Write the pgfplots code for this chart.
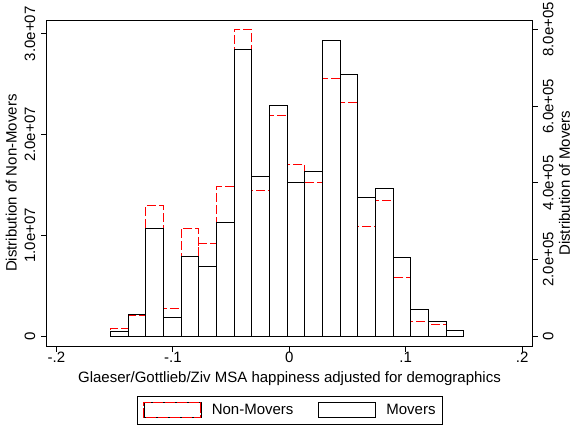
\documentclass[border=0pt]{standalone}
\usepackage{pgfplots}
\usepackage{pgfplotstable}
\pgfplotsset{compat=1.18}
\usepackage{fontspec}
\setmainfont{Liberation Sans}

% bin left edges; the last row only closes the last bin
\pgfplotstableread{
x        nonmovers  movers
-0.15370   783800    12770
-0.13852  2073600    57880
-0.12334 12987000   281300
-0.10816  2768100    49270
-0.09298 10705000   208300
-0.07780  9217000   182200
-0.06262 14873000   296900
-0.04744 30449000   747900
-0.03226 14476000   416900
-0.01708 21917000   601900
-0.00190 17055000   401200
 0.01328 15270000   429900
 0.02846 25588000   771400
 0.04364 23207000   682800
 0.05882 10904000   362100
 0.07400 13483000   385600
 0.08918  5844000   205700
 0.10436  1478000    70130
 0.11954  1181000    38840
 0.13472        0    15380
 0.14990        0        0
}\histdata

\pgfplotsset{
  base/.style={
    at={(0,0)}, anchor=south west,
    scale only axis, width=485.6pt, height=326.3pt,
    xmin=-0.20842, xmax=0.20876,
    tick align=outside, major tick length=5.5pt,
    every tick/.style={black, line width=0.9pt},
    axis line style={line width=0.9pt},
    scaled y ticks=false,
  },
}

\begin{document}
\fontsize{15}{18}\selectfont
\begin{tikzpicture}[font=\fontsize{15}{18}\selectfont]
\begin{axis}[base,
  ymin=-1.002e6, ymax=3.1372e7,
  xtick pos=left, ytick pos=left,
  xtick={-0.2,-0.1,0,0.1,0.2}, xticklabels={-.2,-.1,0,.1,.2},
  ytick={0,1e7,2e7,3e7}, yticklabels={0,1.0e+07,2.0e+07,3.0e+07},
  xticklabel style={anchor=north, inner sep=0pt},
  yticklabel style={rotate=90, anchor=base, inner sep=0pt},
  yticklabel shift=6pt,
  xlabel={Glaeser/Gottlieb/Ziv MSA happiness adjusted for demographics},
  xlabel style={at={(axis description cs:0.5,-0.1103)}, anchor=base, inner sep=0pt},
  ylabel={Distribution of Non-Movers},
  ylabel style={at={(axis description cs:-0.06178,0.5)}, anchor=base, inner sep=0pt},
]
  \addplot[ybar interval, draw=red, fill=none, line width=0.9pt,
    dash pattern=on 9pt off 3pt] table[x=x, y=nonmovers] {\histdata};
\end{axis}
\begin{axis}[base,
  ymin=-26330, ymax=824300,
  axis x line=none, axis y line*=right,
  ytick={0,2e5,4e5,6e5,8e5},
  yticklabels={0,2.0e+05,4.0e+05,6.0e+05,8.0e+05},
  yticklabel style={rotate=90, anchor=north, inner sep=0pt},
  yticklabel shift=5pt,
  ylabel={Distribution of Movers},
  ylabel style={at={(axis description cs:1.0776,0.5)}, anchor=base, inner sep=0pt},
  legend columns=2, legend cell align=left,
  legend style={at={(axis description cs:0.5,-0.1514)}, anchor=north,
    draw=black, line width=0.9pt, inner xsep=6.5pt, inner ysep=6.2pt,
    nodes={inner sep=0pt},
    /tikz/every odd column/.append style={column sep=10.4pt},
    /tikz/every even column/.append style={column sep=24.6pt}},
]
  \addlegendimage{legend image code/.code={
    \draw[black, line width=0.6pt] (0pt,-7.5pt) rectangle (57pt,7.5pt);
    \draw[red, line width=0.9pt, dash pattern=on 10pt off 2pt] (0pt,-7.5pt) rectangle (57pt,7.5pt);}}
  \addlegendentry{Non-Movers}
  \addlegendimage{legend image code/.code={
    \draw[black, line width=0.9pt] (0pt,-7.5pt) rectangle (57pt,7.5pt);}}
  \addlegendentry{Movers}
  \addplot[ybar interval, draw=black, fill=none, line width=0.9pt, forget plot]
    table[x=x, y=movers] {\histdata};
\end{axis}
\pgfresetboundingbox
\path[use as bounding box] (-46.7pt,-81.7pt) rectangle (527.3pt,346.3pt);
\end{tikzpicture}
\end{document}
